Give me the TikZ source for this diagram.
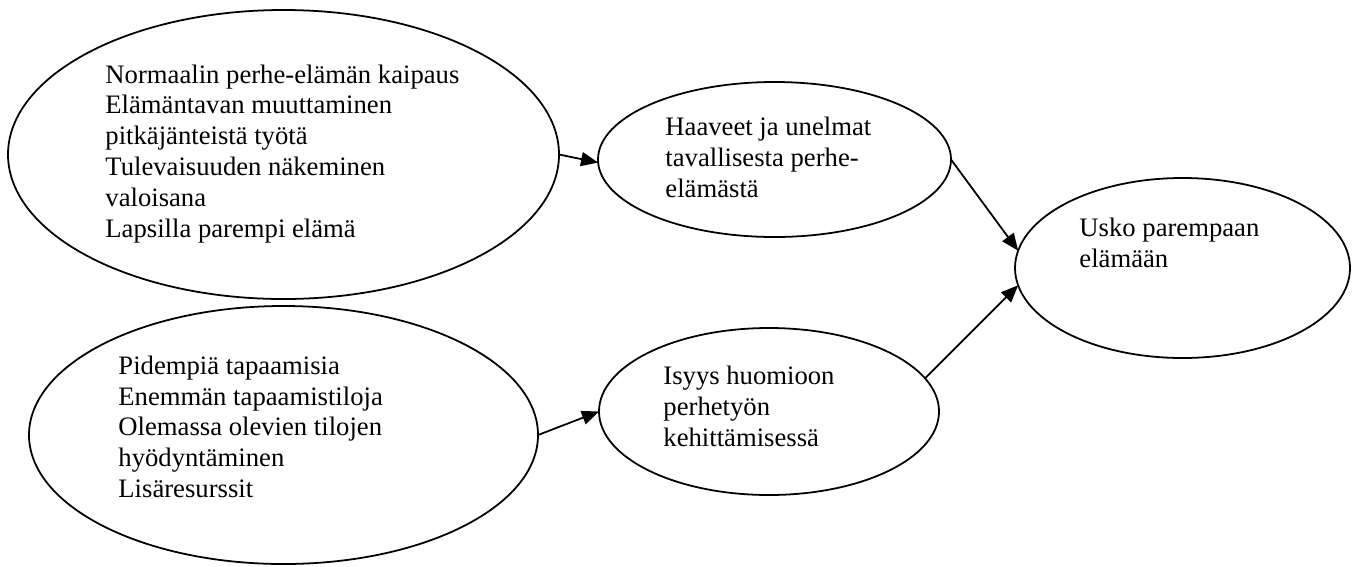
\documentclass[tikz,border=0pt]{standalone}
\usepackage{fontspec}
\setmainfont{Liberation Serif}
\usetikzlibrary{shapes.geometric,arrows.meta}
\tikzset{
  bubble/.style={draw, ellipse, line width=0.8pt, inner sep=0pt, outer sep=0pt},
  bubbletext/.style={anchor=base west, inner sep=0pt, align=left,
    font=\fontsize{12pt}{13.86pt}\selectfont},
  link/.style={line width=0.8pt, -{Triangle[length=7.7pt,width=6.3pt]}}
}
\begin{document}
\begin{tikzpicture}[x=0.45pt, y=-0.45pt]
\useasboundingbox (0,0) rectangle (1358,566);
\node[bubble, minimum width=551*0.45pt, minimum height=289*0.45pt] (A) at (283.5,154.5) {};
\node[bubble, minimum width=509*0.45pt, minimum height=258*0.45pt] (B) at (283.5,435) {};
\node[bubble, minimum width=353*0.45pt, minimum height=155*0.45pt] (C) at (774.5,159.5) {};
\node[bubble, minimum width=340*0.45pt, minimum height=167*0.45pt] (D) at (769,411.5) {};
\node[bubble, minimum width=335*0.45pt, minimum height=180*0.45pt] (E) at (1182.5,268) {};
% base anchor = baseline of the last line
\node[bubbletext] (tA) at (105,237) {Normaalin perhe-elämän kaipaus\\Elämäntavan muuttaminen\\pitkäjänteistä työtä\\Tulevaisuuden näkeminen\\valoisana\\Lapsilla parempi elämä};
\node[bubbletext] (tB) at (118,497.5) {Pidempiä tapaamisia\\Enemmän tapaamistiloja\\Olemassa olevien tilojen\\hyödyntäminen\\Lisäresurssit};
\node[bubbletext] (tC) at (665,197) {Haaveet ja unelmat\\tavallisesta perhe-\\elämästä};
\node[bubbletext] (tD) at (663,446) {Isyys huomioon\\perhetyön\\kehittämisessä};
\node[bubbletext] (tE) at (1079,267) {Usko parempaan\\elämään};
\draw[link] (A.east) -- (C.181);
\draw[link] (B.east) -- (D.west);
\draw[link] (C.east) -- (E.174);
\draw[link] (D.12) -- (E.186);
\end{tikzpicture}
\end{document}
